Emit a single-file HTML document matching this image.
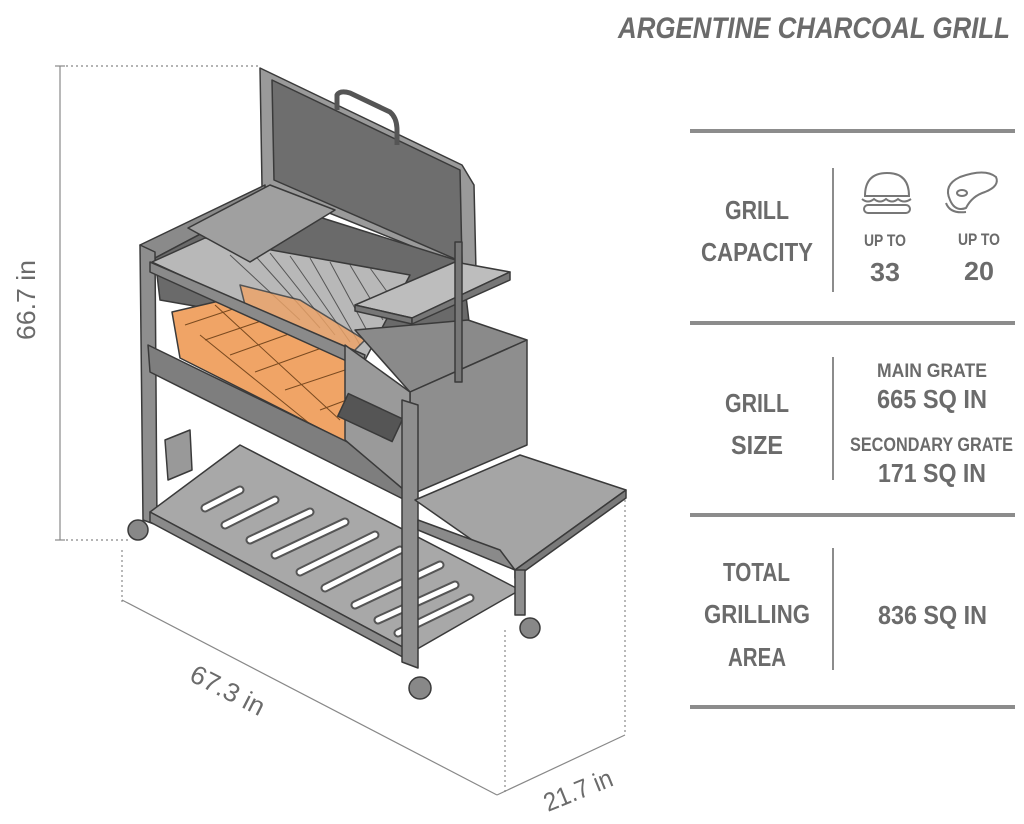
<!DOCTYPE html>
<html><head><meta charset="utf-8"><style>
html,body{margin:0;padding:0;background:#fff;}
svg{display:block;}
text{font-family:"Liberation Sans",sans-serif;font-weight:bold;fill:#6b6b6b;}
</style></head><body>
<svg width="1024" height="824" viewBox="0 0 1024 824" xmlns="http://www.w3.org/2000/svg">
<text x="618" y="38" font-size="30" font-style="italic" textLength="392" lengthAdjust="spacingAndGlyphs">ARGENTINE CHARCOAL GRILL</text>
<g fill="#8c8c8c">
<rect x="690" y="129" width="325" height="4"/>
<rect x="690" y="321" width="325" height="4"/>
<rect x="690" y="513" width="325" height="4"/>
<rect x="690" y="705" width="325" height="4"/>
<rect x="832" y="168" width="2" height="124"/>
<rect x="832" y="357" width="2" height="123"/>
<rect x="832" y="548" width="2" height="122"/>
</g>
<g font-size="26" text-anchor="start">
<text x="725" y="219" textLength="64" lengthAdjust="spacingAndGlyphs">GRILL</text>
<text x="701" y="261" textLength="112" lengthAdjust="spacingAndGlyphs">CAPACITY</text>
<text x="725" y="412" textLength="64" lengthAdjust="spacingAndGlyphs">GRILL</text>
<text x="731" y="454" textLength="52" lengthAdjust="spacingAndGlyphs">SIZE</text>
<text x="723" y="581" textLength="67" lengthAdjust="spacingAndGlyphs">TOTAL</text>
<text x="704" y="623" textLength="106" lengthAdjust="spacingAndGlyphs">GRILLING</text>
<text x="728" y="666" textLength="58" lengthAdjust="spacingAndGlyphs">AREA</text>
<text x="870" y="281" textLength="30" lengthAdjust="spacingAndGlyphs">33</text>
<text x="964" y="280" textLength="30" lengthAdjust="spacingAndGlyphs">20</text>
<text x="877" y="408" textLength="110" lengthAdjust="spacingAndGlyphs">665 SQ IN</text>
<text x="878" y="482" textLength="108" lengthAdjust="spacingAndGlyphs">171 SQ IN</text>
<text x="878" y="624" textLength="109" lengthAdjust="spacingAndGlyphs">836 SQ IN</text>
</g>
<g font-size="17">
<text x="864" y="246" textLength="42" lengthAdjust="spacingAndGlyphs">UP TO</text>
<text x="958" y="245" textLength="42" lengthAdjust="spacingAndGlyphs">UP TO</text>
<text x="877" y="377" font-size="19" textLength="110" lengthAdjust="spacingAndGlyphs">MAIN GRATE</text>
<text x="850" y="451" font-size="19" textLength="163" lengthAdjust="spacingAndGlyphs">SECONDARY GRATE</text>
</g>
<g fill="none" stroke="#777" stroke-width="2">
<path d="M865 196 Q865 173 887 173 Q909 173 909 196 Z"/>
<path d="M862 199 Q868 204 874 199 Q880 204 886 199 Q892 204 898 199 Q904 204 911 199"/>
<rect x="864" y="205" width="46" height="8" rx="4"/>
</g>
<g fill="none" stroke="#777" stroke-width="2">
<path d="M950 200 Q943 185 960 177 Q985 168 996 177 Q1000 186 985 192 Q972 196 966 208 Q955 212 950 200 Z"/>
<path d="M946 203 Q950 214 966 212"/>
<ellipse cx="962" cy="193" rx="5" ry="3"/>
</g>

<g stroke="#888" stroke-width="1.2" fill="none">
<line x1="60" y1="66" x2="60" y2="540"/>
<line x1="55" y1="66" x2="65" y2="66"/>
<line x1="55" y1="540" x2="65" y2="540"/>
<line x1="66" y1="66" x2="258" y2="66" stroke-dasharray="2,3"/>
<line x1="66" y1="540" x2="130" y2="540" stroke-dasharray="2,3"/>
<line x1="122" y1="600" x2="497" y2="795"/>
<line x1="497" y1="795" x2="625" y2="735"/>
<line x1="122" y1="550" x2="122" y2="605" stroke-dasharray="2,3"/>
<line x1="505" y1="630" x2="505" y2="792" stroke-dasharray="2,3"/>
<line x1="625" y1="490" x2="625" y2="735" stroke-dasharray="2,3"/>
</g>
<text font-size="26" transform="translate(35,340) rotate(-90)" textLength="80" lengthAdjust="spacingAndGlyphs" style="font-weight:normal">66.7 in</text>
<text font-size="26" transform="translate(188,680) rotate(27)" textLength="80" lengthAdjust="spacingAndGlyphs" style="font-weight:normal">67.3 in</text>
<text font-size="26" transform="translate(548,812) rotate(-22)" textLength="72" lengthAdjust="spacingAndGlyphs" style="font-weight:normal">21.7 in</text>

<g stroke="#3a3a3a" stroke-width="1.5" stroke-linejoin="round">
<polygon points="260,68 462,165 474,185 476,272 262,186" fill="#9a9a9a"/>
<polygon points="272,80 460,170 462,262 274,180" fill="#6e6e6e"/>
<path d="M337,110 L337,95 Q340,90 350,93 L390,112 Q397,118 397,130 L397,145" fill="none" stroke="#555" stroke-width="5"/>
<polygon points="140,245 265,185 265,200 155,258" fill="#8a8a8a"/>
<polygon points="155,258 265,200 462,262 470,330 360,335 160,300" fill="#6a6a6a"/>
<polygon points="140,245 155,252 157,525 143,520" fill="#8e8e8e"/>
<polygon points="150,512 240,445 520,590 412,652" fill="#a8a8a8"/>
<g stroke="#555" stroke-width="9" stroke-linecap="round">
<line x1="205" y1="508" x2="240" y2="490"/>
<line x1="225" y1="525" x2="275" y2="500"/>
<line x1="250" y1="540" x2="310" y2="512"/>
<line x1="275" y1="555" x2="345" y2="522"/>
<line x1="300" y1="572" x2="375" y2="535"/>
<line x1="325" y1="588" x2="400" y2="550"/>
<line x1="355" y1="605" x2="440" y2="565"/>
<line x1="378" y1="620" x2="455" y2="585"/>
<line x1="398" y1="633" x2="470" y2="598"/>
</g>
<g stroke="#fff" stroke-width="5" stroke-linecap="round">
<line x1="205" y1="508" x2="240" y2="490"/>
<line x1="225" y1="525" x2="275" y2="500"/>
<line x1="250" y1="540" x2="310" y2="512"/>
<line x1="275" y1="555" x2="345" y2="522"/>
<line x1="300" y1="572" x2="375" y2="535"/>
<line x1="325" y1="588" x2="400" y2="550"/>
<line x1="355" y1="605" x2="440" y2="565"/>
<line x1="378" y1="620" x2="455" y2="585"/>
<line x1="398" y1="633" x2="470" y2="598"/>
</g>
<polygon points="150,512 412,652 412,662 150,522" fill="#8a8a8a"/>
<polygon points="165,440 190,430 192,470 168,480" fill="#999"/>
<polygon points="172,312 232,298 355,355 360,400 402,428 402,470 180,358" fill="#f0a466"/>
<g stroke="#7a4a20" stroke-width="1">
<line x1="185" y1="325" x2="245" y2="305"/>
<line x1="205" y1="340" x2="270" y2="318"/>
<line x1="230" y1="355" x2="300" y2="330"/>
<line x1="255" y1="372" x2="330" y2="345"/>
<line x1="285" y1="390" x2="345" y2="370"/>
<line x1="320" y1="410" x2="360" y2="395"/>
<line x1="350" y1="430" x2="402" y2="415"/>
<line x1="375" y1="445" x2="402" y2="437"/>
<line x1="215" y1="305" x2="340" y2="420"/>
<line x1="200" y1="335" x2="330" y2="440"/>
</g>
<polygon points="148,345 405,470 405,500 150,372" fill="#7e7e7e"/>
<polygon points="152,262 205,238 410,275 365,360" fill="#b8b8b8"/>
<g stroke="#555" stroke-width="1">
<line x1="230" y1="255" x2="300" y2="320"/>
<line x1="250" y1="250" x2="320" y2="328"/>
<line x1="270" y1="253" x2="335" y2="335"/>
<line x1="290" y1="256" x2="350" y2="342"/>
<line x1="310" y1="258" x2="360" y2="345"/>
<line x1="330" y1="262" x2="372" y2="340"/>
<line x1="350" y1="265" x2="383" y2="320"/>
<line x1="370" y1="268" x2="393" y2="300"/>
</g>
<polygon points="240,285 300,300 365,340 350,355 245,305" fill="#f0a466" opacity="0.8"/>
<polygon points="150,262 365,355 362,368 150,272" fill="#8a8a8a"/>
<polygon points="188,228 270,185 335,210 250,262" fill="#a0a0a0"/>
<polygon points="355,330 468,320 527,340 410,392" fill="#8a8a8a"/>
<polygon points="410,392 527,340 527,445 410,495" fill="#8e8e8e"/>
<polygon points="345,345 410,392 410,495 345,440" fill="#9a9a9a"/>
<rect x="340" y="405" width="60" height="25" fill="#555" transform="rotate(25 370 418)"/>
<polygon points="355,305 455,262 510,272 412,318" fill="#bdbdbd"/>
<polygon points="355,305 412,318 412,324 355,311" fill="#777"/>
<polygon points="412,318 510,272 510,280 412,324" fill="#777"/>
<rect x="455" y="242" width="7" height="140" fill="#777"/>
<polygon points="402,400 418,405 418,668 402,662" fill="#8e8e8e"/>
<polygon points="415,500 520,455 626,490 515,570" fill="#a5a5a5"/>
<polygon points="515,570 626,490 626,498 515,578" fill="#7a7a7a"/>
<polygon points="418,520 500,550 515,570 418,530" fill="#8a8a8a"/>
<rect x="515" y="570" width="10" height="45" fill="#8e8e8e"/>
<circle cx="138" cy="530" r="10" fill="#888"/>
<circle cx="420" cy="688" r="11" fill="#888"/>
<circle cx="530" cy="628" r="10" fill="#888"/>
</g>
</svg>
</body></html>
